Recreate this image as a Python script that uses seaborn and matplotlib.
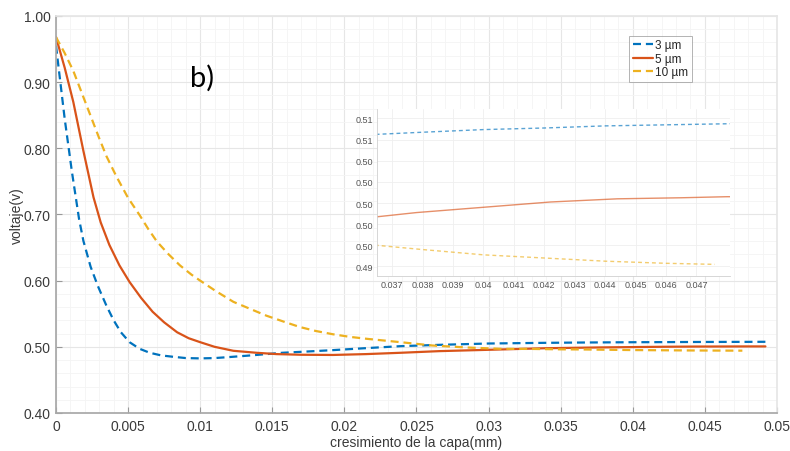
import numpy as np
import pandas as pd
import matplotlib
matplotlib.use("Agg")
import matplotlib.pyplot as plt
import seaborn as sns
from matplotlib.ticker import MultipleLocator, FixedLocator, FormatStrFormatter, FuncFormatter

# values
x_3um = [0, 0.0006, 0.0011, 0.0016, 0.0019, 0.0024, 0.0029, 0.0035, 0.0040, 0.0045,
         0.0051, 0.0058, 0.0065, 0.0073, 0.0081, 0.0090, 0.0100, 0.0110, 0.0120, 0.0135,
         0.0157, 0.0175, 0.0192, 0.0215, 0.0239, 0.0266, 0.0300, 0.0338, 0.0365, 0.0380,
         0.0400, 0.0420, 0.0440, 0.0460, 0.0480, 0.0492]
y_3um = [0.955, 0.845, 0.765, 0.693, 0.660, 0.621, 0.592, 0.562, 0.540, 0.522,
         0.507, 0.497, 0.491, 0.487, 0.485, 0.483, 0.4825, 0.483, 0.4845, 0.487,
         0.491, 0.493, 0.495, 0.498, 0.501, 0.503, 0.505, 0.5060, 0.5065, 0.5067,
         0.50695, 0.5071, 0.5073, 0.5074, 0.5075, 0.5076]

x_5um = [0, 0.0006, 0.0012, 0.0019, 0.0026, 0.0031, 0.0037, 0.0044, 0.0051, 0.0059,
         0.0067, 0.0075, 0.0084, 0.0092, 0.0100, 0.0110, 0.0123, 0.0139, 0.0153, 0.0170,
         0.0192, 0.0215, 0.0239, 0.0266, 0.0300, 0.0338, 0.0365, 0.0378, 0.0400, 0.0422,
         0.0444, 0.0465, 0.0480, 0.0492]
y_5um = [0.968, 0.922, 0.870, 0.796, 0.726, 0.688, 0.654, 0.623, 0.598, 0.574,
         0.553, 0.537, 0.522, 0.513, 0.507, 0.500, 0.494, 0.491, 0.489, 0.488,
         0.4877, 0.489, 0.491, 0.4935, 0.4955, 0.4978, 0.4987, 0.4991, 0.4996, 0.5001,
         0.5004, 0.5005, 0.5006, 0.5006]

x_10um = [0, 0.0006, 0.0012, 0.0018, 0.0024, 0.0030, 0.0035, 0.0042, 0.0050, 0.0058,
          0.0064, 0.0070, 0.0078, 0.0086, 0.0094, 0.0100, 0.0111, 0.0123, 0.0135, 0.0146,
          0.0158, 0.0169, 0.0180, 0.0192, 0.0204, 0.0216, 0.0239, 0.0261, 0.0285, 0.0308,
          0.0330, 0.0350, 0.0365, 0.0380, 0.0400, 0.0420, 0.0440, 0.0460, 0.0476]
y_10um = [0.968, 0.944, 0.917, 0.883, 0.849, 0.815, 0.788, 0.757, 0.725, 0.699,
          0.678, 0.659, 0.640, 0.623, 0.609, 0.600, 0.584, 0.568, 0.557, 0.547,
          0.538, 0.530, 0.524, 0.519, 0.515, 0.512, 0.507, 0.502, 0.499, 0.497,
          0.4968, 0.4962, 0.4960, 0.4956, 0.4951, 0.4948, 0.4945, 0.4943, 0.4942]

labels = ["3 µm", "5 µm", "10 µm"]
colors = {"3 µm": "#0072BD", "5 µm": "#D95319", "10 µm": "#EDB120"}

main_xticks = [0, 0.005, 0.01, 0.015, 0.02, 0.025, 0.03, 0.035, 0.04, 0.045, 0.05]
main_yticks = [0.40, 0.50, 0.60, 0.70, 0.80, 0.90, 1.00]
inset_xticks = [0.037, 0.038, 0.039, 0.04, 0.041, 0.042, 0.043, 0.044, 0.045, 0.046, 0.047]
inset_yticks = [0.494, 0.496, 0.498, 0.500, 0.502, 0.504, 0.506, 0.508]

df = pd.concat([
    pd.DataFrame({"x": x_3um, "y": y_3um, "serie": labels[0]}),
    pd.DataFrame({"x": x_5um, "y": y_5um, "serie": labels[1]}),
    pd.DataFrame({"x": x_10um, "y": y_10um, "serie": labels[2]}),
], ignore_index=True)

sns.set_theme(style="white")
plt.rcParams['font.family'] = ['Liberation Sans', 'DejaVu Sans']

fig = plt.figure(figsize=(7.9, 4.52), dpi=100)
ax = fig.add_axes([0.0709, 0.0841, 0.9126, 0.8783])

sns.lineplot(data=df, x="x", y="y", hue="serie", style="serie", hue_order=labels,
             style_order=labels, palette=colors,
             dashes={"3 µm": (3.6, 2.2), "5 µm": "", "10 µm": (3.6, 2.2)},
             estimator=None, sort=False, linewidth=1.6, legend=False, ax=ax)

ax.set_xlim(0, 0.05)
ax.set_ylim(0.40, 1.00)
ax.xaxis.set_major_locator(FixedLocator(main_xticks))
ax.yaxis.set_major_locator(FixedLocator(main_yticks))
ax.xaxis.set_minor_locator(MultipleLocator(0.001))
ax.yaxis.set_minor_locator(MultipleLocator(0.02))
ax.xaxis.set_major_formatter(FuncFormatter(lambda v, p: f"{v:g}"))
ax.yaxis.set_major_formatter(FormatStrFormatter("%.2f"))
ax.grid(True, which="major", color="#e6e6e6", linewidth=0.8)
ax.grid(True, which="minor", color="#f4f4f4", linewidth=0.6)
ax.set_axisbelow(True)
ax.tick_params(axis="both", which="major", direction="in", length=4, width=0.8,
               color="#999999", labelsize=10, labelcolor="#3a3a3a", pad=4,
               bottom=True, left=True)
for side in ["left", "bottom"]:
    ax.spines[side].set_color("#a8a8a8")
for side in ["top", "right"]:
    ax.spines[side].set_color("#e6e6e6")
ax.set_xlabel("cresimiento de la capa(mm)", fontsize=10, color="#3a3a3a", labelpad=2)
ax.set_ylabel("voltaje(v)", fontsize=10, color="#3a3a3a", labelpad=0)

ax.text(0.0093, 0.908, "b)", fontsize=21, family=["Lato", "DejaVu Sans"],
        color="black", ha="left", va="center")

leg = ax.legend(handles=ax.lines[:3], labels=labels, loc="upper right",
                bbox_to_anchor=(0.882, 0.95), fontsize=8.5, frameon=True,
                fancybox=False, handlelength=1.7, handletextpad=0.2,
                borderpad=0.3, labelspacing=0.12, borderaxespad=0)
leg.get_frame().set_edgecolor("#a0a0a0")
leg.get_frame().set_linewidth(0.7)

# inset zoom
axin = fig.add_axes([0.4772, 0.3872, 0.4468, 0.3695])
axin.set_facecolor("white")
sns.lineplot(data=df, x="x", y="y", hue="serie", style="serie", hue_order=labels,
             style_order=labels, palette=colors,
             dashes={"3 µm": (2.8, 2.2), "5 µm": "", "10 µm": (2.8, 2.2)},
             estimator=None, sort=False, linewidth=1.0, alpha=0.65, legend=False, ax=axin)
axin.set_xlim(0.0365, 0.0481)
axin.set_ylim(0.4931, 0.5089)
axin.xaxis.set_major_locator(FixedLocator(inset_xticks))
axin.yaxis.set_major_locator(FixedLocator(inset_yticks))
axin.xaxis.set_major_formatter(FuncFormatter(lambda v, p: f"{v:g}"))
axin.yaxis.set_major_formatter(FormatStrFormatter("%.2f"))
axin.grid(True, which="major", color="#efefef", linewidth=0.6)
axin.tick_params(axis="both", which="major", direction="in", length=3, width=0.6,
                 color="#bbbbbb", labelsize=6.5, labelcolor="#555555", pad=3)
axin.set_xlabel("")
axin.set_ylabel("")
for side in ["left", "bottom"]:
    axin.spines[side].set_color("#d0d0d0")
    axin.spines[side].set_linewidth(0.6)
for side in ["top", "right"]:
    axin.spines[side].set_visible(False)

fig.savefig("out.png", dpi=100)
